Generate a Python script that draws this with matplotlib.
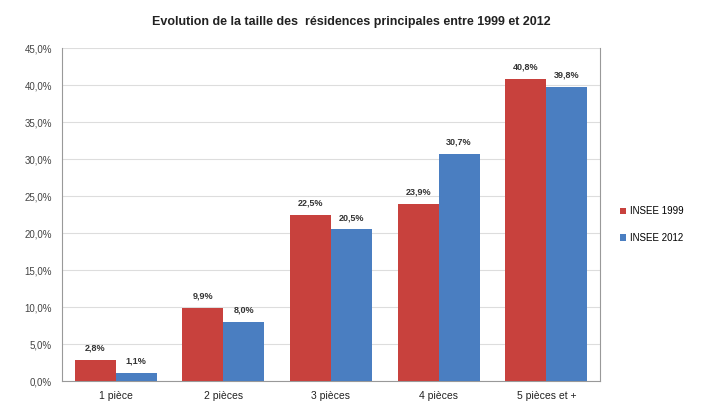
import matplotlib.pyplot as plt
import numpy as np

categories = ["1 pièce", "2 pièces", "3 pièces", "4 pièces", "5 pièces et +"]
insee_1999 = [2.8, 9.9, 22.5, 23.9, 40.8]
insee_2012 = [1.1, 8.0, 20.5, 30.7, 39.8]
series_names = ["INSEE 1999", "INSEE 2012"]

red = "#C8413D"
blue = "#4A7EC1"

plt.rcParams['font.family'] = ['Liberation Sans', 'DejaVu Sans']

fig = plt.figure(figsize=(7.02, 4.05), dpi=100)
ax = fig.add_axes([0.088, 0.059, 0.767, 0.822])

x = np.arange(len(categories))
w = 0.38
b1 = ax.bar(x - w / 2, insee_1999, w, color=red, label=series_names[0], zorder=3)
b2 = ax.bar(x + w / 2, insee_2012, w, color=blue, label=series_names[1], zorder=3)

def fmt(v):
    return ("%.1f%%" % v).replace(".", ",")

for bars, vals in ((b1, insee_1999), (b2, insee_2012)):
    for rect, v in zip(bars, vals):
        ax.text(rect.get_x() + rect.get_width() / 2, v + 1.0, fmt(v),
                ha="center", va="bottom", fontsize=6.5, fontweight="bold", color="#333333")

ax.set_xlim(-0.5, len(categories) - 0.5)
ax.set_ylim(0, 45)
ax.set_yticks(np.arange(0, 46, 5))
ax.set_yticklabels([fmt(t) for t in np.arange(0, 46, 5)], fontsize=7, color="#444444")
ax.set_xticks(x)
ax.set_xticklabels(categories, fontsize=7.5, color="#222222")
ax.tick_params(axis="both", length=0, pad=7)
ax.grid(axis="y", color="#dddddd", linewidth=0.8, zorder=0)

for side in ["left", "right", "bottom"]:
    ax.spines[side].set_color("#999999")
ax.spines["top"].set_visible(False)

ax.legend(loc="center left", bbox_to_anchor=(1.02, 0.47), frameon=False,
          fontsize=7, handlelength=0.6, handleheight=0.6, labelspacing=1.7,
          handletextpad=0.5)

fig.text(0.5, 0.945, "Evolution de la taille des  résidences principales entre 1999 et 2012",
         ha="center", va="center", fontsize=9, fontweight="bold", color="#222222")

fig.savefig("out.png", dpi=100, facecolor="white")
